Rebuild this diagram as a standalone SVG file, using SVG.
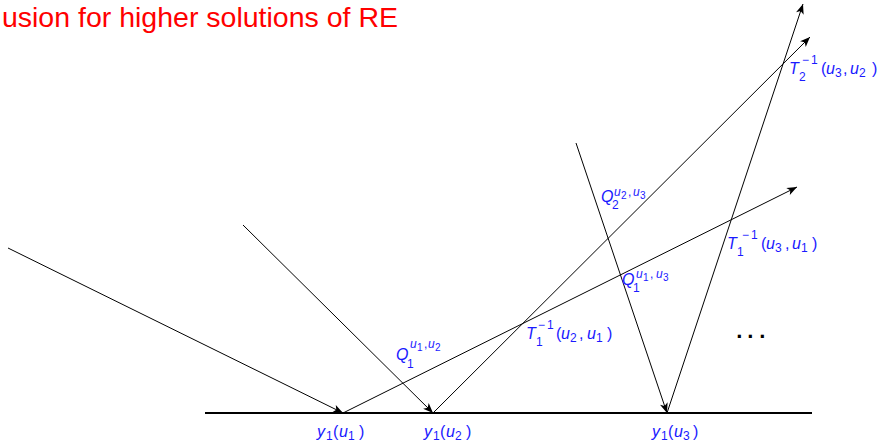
<svg xmlns="http://www.w3.org/2000/svg" width="883" height="442" viewBox="0 0 883 442">
<style>
.bg{fill:#ffffff}
.ray{stroke:#000;stroke-width:1;fill:none}
.ground{stroke:#000;stroke-width:2;fill:none}
.lab{font-family:"Liberation Sans",Arial,sans-serif;fill:#1a1aff;font-size:16px}
.i{font-style:italic}
.s{font-size:12px}
.ss{font-size:10px}
.title{font-family:"Liberation Sans",Arial,sans-serif;fill:#ff0000;font-size:28.5px}
.dots{font-family:"Liberation Sans",Arial,sans-serif;fill:#000;font-size:22px;font-weight:bold;text-anchor:middle}
</style>
<defs>
<marker id="arr" viewBox="-11 -5 12 10" refX="0" refY="0" markerWidth="12" markerHeight="10" markerUnits="userSpaceOnUse" orient="auto">
<path d="M0,0 L-10,-4 L-7.5,0 L-10,4 Z" fill="#000"/>
</marker>
</defs>
<rect class="bg" x="0" y="0" width="883" height="442"/>
<text id="title" class="title" x="398" y="27" text-anchor="end">usion for higher solutions of RE</text>
<g id="connectors">
<line id="ground" class="ground" x1="205" y1="413" x2="812" y2="413"/>
<line class="ray" x1="8" y1="248" x2="343" y2="413" marker-end="url(#arr)"/>
<line class="ray" x1="243" y1="225" x2="433" y2="413" marker-end="url(#arr)"/>
<line class="ray" x1="343" y1="413" x2="797" y2="187" marker-end="url(#arr)"/>
<line class="ray" x1="433" y1="413" x2="810" y2="37" marker-end="url(#arr)"/>
<line class="ray" x1="576" y1="143" x2="667" y2="413" marker-end="url(#arr)"/>
<line class="ray" x1="667" y1="413" x2="803" y2="4" marker-end="url(#arr)"/>
</g>
<g id="y1u1"><text class="lab"><tspan class="i" x="317" y="437">y</tspan><tspan class="s" x="326" y="440">1</tspan><tspan x="333" y="437">(</tspan><tspan class="i" x="339" y="437">u</tspan><tspan class="s" x="348" y="440">1</tspan><tspan x="359" y="437">)</tspan></text></g>
<g id="y1u2"><text class="lab"><tspan class="i" x="424" y="437">y</tspan><tspan class="s" x="433" y="440">1</tspan><tspan x="440" y="437">(</tspan><tspan class="i" x="446" y="437">u</tspan><tspan class="s" x="455" y="440">2</tspan><tspan x="466" y="437">)</tspan></text></g>
<g id="y1u3"><text class="lab"><tspan class="i" x="652" y="437">y</tspan><tspan class="s" x="661" y="440">1</tspan><tspan x="668" y="437">(</tspan><tspan class="i" x="674" y="437">u</tspan><tspan class="s" x="683" y="440">3</tspan><tspan x="693" y="437">)</tspan></text></g>
<g id="Q1u1u2"><text class="lab"><tspan class="i" x="396" y="360">Q</tspan><tspan class="s" x="407" y="368">1</tspan><tspan class="s i" x="410" y="348">u</tspan><tspan class="ss" x="417" y="351">1</tspan><tspan class="s" x="424" y="348">,</tspan><tspan class="s i" x="428" y="348">u</tspan><tspan class="ss" x="435" y="351">2</tspan></text></g>
<g id="T1u2u1"><text class="lab"><tspan class="i" x="526" y="339">T</tspan><tspan class="s" x="536" y="346">1</tspan><tspan class="s" x="538" y="329">−</tspan><tspan class="s" x="547" y="329">1</tspan><tspan x="556" y="339">(</tspan><tspan class="i" x="561" y="339">u</tspan><tspan class="s" x="570" y="342">2</tspan><tspan x="579" y="339">,</tspan><tspan class="i" x="587" y="339">u</tspan><tspan class="s" x="596" y="342">1</tspan><tspan x="607" y="339">)</tspan></text></g>
<g id="Q2u2u3"><text class="lab"><tspan class="i" x="601" y="202">Q</tspan><tspan class="s" x="612" y="209">2</tspan><tspan class="s i" x="614" y="196">u</tspan><tspan class="ss" x="621" y="199">2</tspan><tspan class="s" x="628" y="196">,</tspan><tspan class="s i" x="633" y="196">u</tspan><tspan class="ss" x="640" y="199">3</tspan></text></g>
<g id="Q1u1u3"><text class="lab"><tspan class="i" x="622" y="285">Q</tspan><tspan class="s" x="633" y="292">1</tspan><tspan class="s i" x="636" y="278">u</tspan><tspan class="ss" x="643" y="281">1</tspan><tspan class="s" x="650" y="278">,</tspan><tspan class="s i" x="656" y="278">u</tspan><tspan class="ss" x="663" y="281">3</tspan></text></g>
<g id="T1u3u1"><text class="lab"><tspan class="i" x="727" y="249">T</tspan><tspan class="s" x="737" y="256">1</tspan><tspan class="s" x="742" y="239">−</tspan><tspan class="s" x="751" y="239">1</tspan><tspan x="761" y="249">(</tspan><tspan class="i" x="766" y="249">u</tspan><tspan class="s" x="775" y="252">3</tspan><tspan x="785" y="249">,</tspan><tspan class="i" x="792" y="249">u</tspan><tspan class="s" x="801" y="252">1</tspan><tspan x="812" y="249">)</tspan></text></g>
<g id="T2u3u2"><text class="lab"><tspan class="i" x="789" y="74">T</tspan><tspan class="s" x="799" y="81">2</tspan><tspan class="s" x="802" y="64">−</tspan><tspan class="s" x="811" y="64">1</tspan><tspan x="821" y="74">(</tspan><tspan class="i" x="826" y="74">u</tspan><tspan class="s" x="835" y="77">3</tspan><tspan x="843" y="74">,</tspan><tspan class="i" x="850" y="74">u</tspan><tspan class="s" x="859" y="77">2</tspan><tspan x="872" y="74">)</tspan></text></g>
<g id="ellipsis"><text class="dots"><tspan x="740" y="344">·</tspan><tspan x="751" y="344">·</tspan><tspan x="763" y="344">·</tspan></text></g>
</svg>
